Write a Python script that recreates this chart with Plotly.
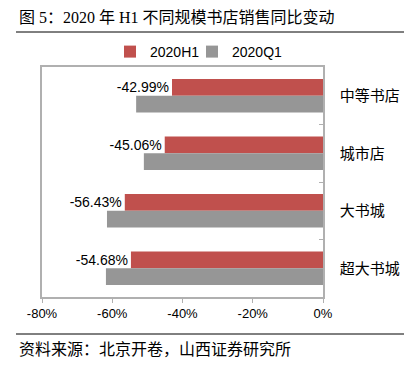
import plotly.graph_objects as go

categories = ["中等书店", "城市店", "大书城", "超大书城"]
h1_values = [-42.99, -45.06, -56.43, -54.68]
q1_values = [-53.2, -51.0, -61.5, -61.8]
series_names = ["2020H1", "2020Q1"]
x_ticks = [-80, -60, -40, -20, 0]
x_tick_labels = ["-80%", "-60%", "-40%", "-20%", "0%"]

title_text = "图 5：2020 年 H1 不同规模书店销售同比变动"
source_text = "资料来源：北京开卷，山西证券研究所"

SANS = "Liberation Sans, Noto Sans CJK SC, sans-serif"
CJK = "Noto Sans CJK SC, sans-serif"
SERIF = "Liberation Serif, Noto Sans CJK SC, serif"

fig = go.Figure()
fig.add_trace(go.Bar(
    y=categories, x=h1_values, name=series_names[0], orientation="h",
    marker=dict(color="#C0504D", line=dict(width=0)),
    text=[f"{v:.2f}%" for v in h1_values], textposition="outside",
    textfont=dict(family=SANS, size=14, color="#000000"), cliponaxis=False,
    legend="legend",
))
fig.add_trace(go.Bar(
    y=categories, x=q1_values, name=series_names[1], orientation="h",
    marker=dict(color="#969696", line=dict(width=0)),
    legend="legend2",
))

L, R, T, B = 42, 85, 67, 68
W, H = 408, 365
pw = W - L - R
ph = H - T - B

def px(x):
    return (x - L) / pw

def py(y):
    return (H - B - y) / ph

legend_style = dict(orientation="h", xanchor="left", y=py(52), yanchor="middle",
                    font=dict(family=SANS, size=14, color="#000000"),
                    itemwidth=30, bgcolor="rgba(0,0,0,0)")

fig.update_layout(
    width=W, height=H,
    margin=dict(l=L, r=R, t=T, b=B, autoexpand=False),
    paper_bgcolor="white", plot_bgcolor="white",
    barmode="group", bargap=0.42, bargroupgap=0,
    showlegend=True,
    legend=dict(x=px(110), **legend_style),
    legend2=dict(x=px(192), **legend_style),
    xaxis=dict(range=[-80, 0], tickvals=x_ticks, ticktext=x_tick_labels,
               showgrid=False, zeroline=False, showline=True, mirror=True,
               linecolor="#B0B0B0", linewidth=1.5, automargin=False,
               ticks="outside", ticklen=4, tickcolor="#B0B0B0",
               tickfont=dict(family=SANS, size=13, color="#000000")),
    yaxis=dict(autorange="reversed", side="right", showgrid=False,
               showline=True, mirror=True, linecolor="#B0B0B0", linewidth=1.5,
               ticks="inside", ticklen=4, tickcolor="#B0B0B0", tickson="boundaries",
               ticklabelstandoff=12, automargin=False,
               tickfont=dict(family=CJK, size=15, color="#000000")),
    annotations=[
        dict(text=title_text, xref="paper", yref="paper", x=px(17), y=py(18),
             xanchor="left", yanchor="middle", showarrow=False,
             font=dict(family=SERIF, size=16, color="#000000")),
        dict(text=source_text, xref="paper", yref="paper", x=px(17), y=py(348),
             xanchor="left", yanchor="middle", showarrow=False,
             font=dict(family=CJK, size=16, color="#000000")),
    ],
    shapes=[
        dict(type="line", xref="paper", yref="paper", x0=px(16), x1=px(404), y0=py(32), y1=py(32),
             line=dict(color="#000000", width=1)),
        dict(type="line", xref="paper", yref="paper", x0=px(16), x1=px(404), y0=py(334), y1=py(334),
             line=dict(color="#000000", width=1)),
    ],
)

fig.write_html("out.html", config={"displayModeBar": False},
               post_script="document.body.style.margin='0';document.body.style.overflow='hidden';")
